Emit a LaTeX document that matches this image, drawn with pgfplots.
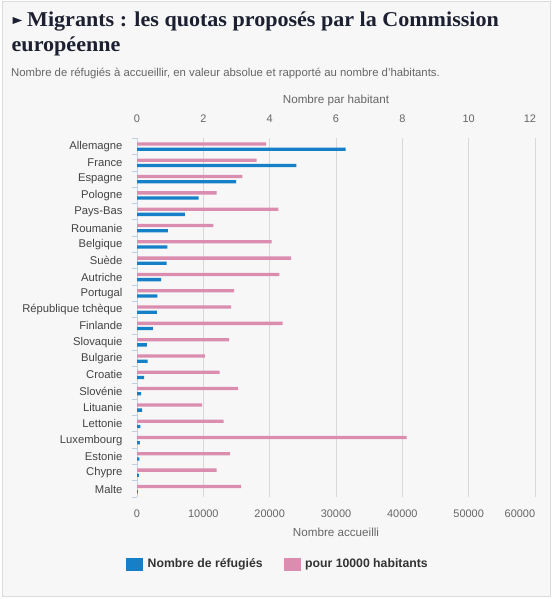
\documentclass[border=0pt]{standalone}
\usepackage{pgfplots}
\pgfplotsset{compat=1.18}
\usepackage{fontspec}
\setmainfont{Liberation Sans}
\newfontfamily\titlefont{Liberation Serif}
\definecolor{bgc}{HTML}{F7F7F7}
\definecolor{framec}{HTML}{D9DDE0}
\definecolor{blueb}{HTML}{1580C8}
\definecolor{pinkb}{HTML}{DB8DB0}
\definecolor{titc}{HTML}{1C2030}
\definecolor{txt}{HTML}{666666}
\definecolor{catc}{HTML}{444444}
\definecolor{legc}{HTML}{333333}
\definecolor{gridc}{HTML}{D8D8D8}
\definecolor{axc}{HTML}{C0D0E0}
\pgfplotsset{
  base/.style={
    scale only axis, width=398bp, height=358.8bp,
    at={(137bp,-497.2bp)}, anchor=south west,
    ymin=-0.5, ymax=21.5, y dir=reverse,
    xbar, bar width=3.3bp,
    tick label style={font=\fontsize{11}{13}\selectfont, text=txt},
    /pgf/number format/assume math mode=true,
    /pgf/number format/set thousands separator={},
    scaled x ticks=false,
    clip=false,
  }
}
\begin{document}
\begin{tikzpicture}
\fill[white] (0,0) rectangle (553bp,-599bp);
\fill[bgc, draw=framec, line width=1bp] (2bp,-1.5bp) rectangle (550.5bp,-596bp);
% title
\fill[titc] (12.7bp,-17bp) -- (22bp,-20.5bp) -- (12.7bp,-24bp) -- cycle;
\node[anchor=base west, inner sep=0, text=titc, font=\titlefont\bfseries\fontsize{21.2}{25}\selectfont] at (27bp,-26.7bp) {\scalebox{1.045}[1]{Migrants : les quotas proposés par la Commission}};
\node[anchor=base west, inner sep=0, text=titc, font=\titlefont\bfseries\fontsize{21.2}{25}\selectfont] at (11.5bp,-51.7bp) {\scalebox{1.045}[1]{européenne}};
\node[anchor=base west, inner sep=0, text=txt, font=\fontsize{11.4}{13}\selectfont] at (11bp,-76bp) {Nombre de réfugiés à accueillir, en valeur absolue et rapporté au nombre d'habitants.};

% top axis: per 10000 inhabitants
\begin{axis}[base,
  xmin=0, xmax=12,
  axis x line*=top, x axis line style={draw=none},
  xtick={0,2,...,10}, extra x ticks={12},
  extra x tick style={grid=major, xticklabel style={anchor=south east, xshift=4.5bp}},
  xmajorgrids, grid style={gridc, line width=1bp},
  x tick style={draw=none},
  xticklabel style={yshift=12bp},
  xlabel={Nombre par habitant},
  xlabel style={at={(axis description cs:0.5,1.107)}, anchor=center, font=\fontsize{11.7}{14}\selectfont, text=txt},
  axis y line*=left, y axis line style={axc, line width=1bp},
  ytick={0,...,21},
  yticklabels={Allemagne,France,Espagne,Pologne,Pays-Bas,Roumanie,Belgique,Suède,Autriche,Portugal,République tchèque,Finlande,Slovaquie,Bulgarie,Croatie,Slovénie,Lituanie,Lettonie,Luxembourg,Estonie,Chypre,Malte},
  yticklabel style={font=\fontsize{11.3}{13}\selectfont, text=catc, anchor=east, xshift=-11bp},
  y tick style={draw=none},
  minor ytick={-0.5,0.5,...,21.5},
  minor y tick style={axc, line width=1bp, draw=axc},
  minor tick length=5bp, major tick length=0bp, tick align=outside,
]
\addplot[fill=pinkb, draw=none, bar shift=2.6bp] coordinates {
(3.89,0) (3.61,1) (3.18,2) (2.40,3) (4.26,4) (2.30,5) (4.06,6) (4.65,7)
(4.29,8) (2.93,9) (2.84,10) (4.39,11) (2.78,12) (2.05,13) (2.49,14) (3.05,15)
(1.96,16) (2.61,17) (8.13,18) (2.81,19) (2.40,20) (3.14,21)};
\end{axis}

% bottom axis: number of refugees
\begin{axis}[base,
  xmin=0, xmax=60000,
  axis x line*=bottom, x axis line style={draw=none},
  xtick={0,10000,...,50000}, extra x ticks={60000},
  extra x tick style={xticklabel style={anchor=north east, xshift=3.7bp}},
  x tick style={draw=none},
  xticklabel style={yshift=-9bp},
  axis y line=none,
  xlabel={Nombre accueilli},
  xlabel style={at={(axis description cs:0.5,-0.097)}, anchor=center, font=\fontsize{11.7}{14}\selectfont, text=txt},
  legend columns=2,
  legend style={at={(axis description cs:0.3543,-0.1862)}, anchor=center, draw=none, fill=none,
    font=\bfseries\fontsize{12.3}{14}\selectfont, text=legc,
    /tikz/every even column/.append style={column sep=19bp},
    /tikz/every odd column/.append style={column sep=3bp}},
]
\addplot[fill=blueb, draw=none, bar shift=-2.6bp, forget plot] coordinates {
(31443,0) (24031,1) (14931,2) (9287,3) (7214,4) (4646,5) (4564,6) (4469,7)
(3640,8) (3074,9) (2978,10) (2398,11) (1502,12) (1600,13) (1064,14) (631,15)
(780,16) (526,17) (440,18) (373,19) (274,20) (133,21)};
\addlegendimage{legend image code/.code={\fill[blueb] (0bp,-6bp) rectangle (16bp,6bp);}}
\addlegendentry{Nombre de réfugiés}
\addlegendimage{legend image code/.code={\fill[pinkb] (0bp,-6bp) rectangle (16bp,6bp);}}
\addlegendentry{pour 10000 habitants}
\end{axis}
\end{tikzpicture}
\end{document}
